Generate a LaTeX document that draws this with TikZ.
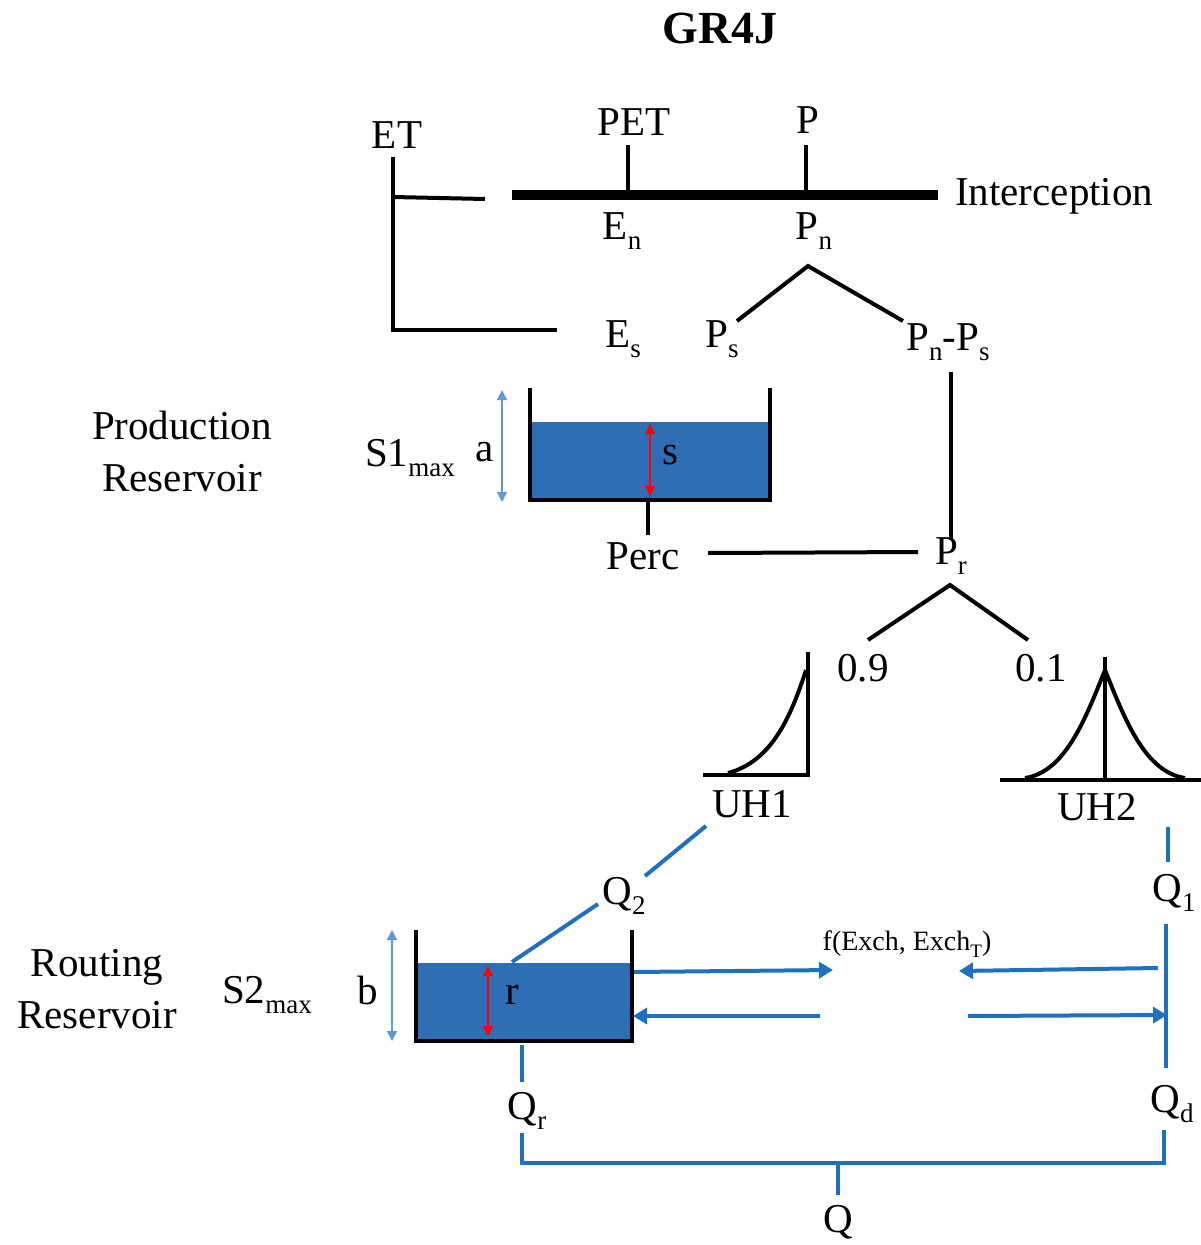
\documentclass[tikz,border=0pt]{standalone}
\usepackage{fontspec}
\setmainfont{Liberation Serif}
\usetikzlibrary{arrows.meta}
\definecolor{water}{HTML}{2E6EB5}
\definecolor{qblue}{HTML}{1F70C1}
\definecolor{lblue}{HTML}{5B9BD5}
\newcommand\sbs[1]{\raisebox{-0.25em}{\fontsize{27pt}{27pt}\selectfont #1}}
\tikzset{
  lbl/.style={inner sep=0pt, font=\fontsize{41pt}{41pt}\selectfont},
  small/.style={inner sep=0pt, font=\fontsize{28pt}{28pt}\selectfont},
  blk/.style={line width=4pt},
  wall/.style={line width=4.5pt},
  qline/.style={qblue, line width=4pt},
  xarrow/.style={qblue, line width=4pt, -{Triangle[length=14pt,width=16pt]}},
  harrow/.style={lblue, line width=1.5pt, {Triangle[length=10pt,width=10pt]}-{Triangle[length=10pt,width=10pt]}},
  rarrow/.style={red, line width=1.5pt, {Triangle[length=10pt,width=10pt]}-{Triangle[length=10pt,width=10pt]}},
}
\begin{document}
\begin{tikzpicture}[x=1pt,y=-1pt]
\useasboundingbox (0,0) rectangle (1201,1245);
% title
\node[inner sep=0pt, font=\fontsize{46pt}{46pt}\selectfont\bfseries] (title) at (720,28) {GR4J};
% top labels
\node[lbl] (ET) at (397,135) {ET};
\node[lbl] (PET) at (634,122) {PET};
\node[lbl] (P) at (808,120) {P};
\node[lbl, anchor=west] (interc) at (955,196) {Interception};
\node[lbl] (En) at (622,231) {E\sbs{n}};
\node[lbl] (Pn) at (814,231) {P\sbs{n}};
\node[lbl] (Es) at (623,339) {E\sbs{s}};
\node[lbl] (Ps) at (722,339) {P\sbs{s}};
\node[lbl] (PnPs) at (948,342) {P\sbs{n}-P\sbs{s}};
% interception bar
\coordinate (ib1) at (512,195); \coordinate (ib2) at (938,195);
\draw[line width=10pt] (ib1) -- (ib2);
\coordinate (petT) at (628,145); \coordinate (petB) at (628,192);
\coordinate (pT) at (806,145); \coordinate (pB) at (806,192);
\draw[blk] (petT) -- (petB);
\draw[blk] (pT) -- (pB);
% ET lines
\coordinate (et1) at (393,157); \coordinate (et2) at (393,330); \coordinate (et3) at (557,330);
\coordinate (etm) at (393,197); \coordinate (ete) at (485,199);
\draw[blk] (et1) -- (et2) -- (et3);
\draw[blk] (etm) -- (ete);
% Pn branch
\coordinate (pnA) at (808,266); \coordinate (pnL) at (737,321); \coordinate (pnR) at (903,321);
\draw[blk] (pnL) -- (pnA) -- (pnR);
\coordinate (psr1) at (951,372); \coordinate (psr2) at (951,540);
\draw[blk] (psr1) -- (psr2);
% production reservoir
\fill[water] (530,422) rectangle (770,499);
\draw[wall] (530,388) -- (530,500) -- (770,500) -- (770,388);
\draw[rarrow] (650,424) -- (650,496);
\node[lbl] (s) at (670,455) {s};
\draw[harrow] (502,390) -- (502,502);
\node[lbl] (a) at (485,452) {a};
\node[lbl] (S1) at (410,458) {S1\sbs{max}};
\node[lbl, align=center, font=\fontsize{41pt}{52pt}\selectfont] (prod) at (182,451) {Production\\Reservoir};
% perc
\coordinate (perc1) at (648,502); \coordinate (perc2) at (648,535);
\draw[blk] (perc1) -- (perc2);
\node[lbl] (Perc) at (643,556) {Perc};
\node[lbl] (Pr) at (951,556) {P\sbs{r}};
\coordinate (pl1) at (708,553); \coordinate (pl2) at (918,552);
\draw[blk] (pl1) -- (pl2);
% Pr branch
\coordinate (prA) at (950,585); \coordinate (prL) at (868,640); \coordinate (prR) at (1028,640);
\draw[blk] (prL) -- (prA) -- (prR);
\node[lbl] (n09) at (863,668) {0.9};
\node[lbl] (n01) at (1041,668) {0.1};
% UH1
\draw[blk] (703,775) -- (808,775) -- (808,652);
\draw[blk] (728,773) .. controls (770,762) and (790,720) .. (806,670);
\node[lbl] (UH1) at (752,804) {UH1};
% UH2
\draw[blk] (1000,780) -- (1201,780);
\draw[blk] (1105,780) -- (1105,657);
\draw[blk] (1025,778) .. controls (1065,772) and (1085,720) .. (1105,670)
  .. controls (1125,720) and (1145,772) .. (1185,778);
\node[lbl] (UH2) at (1097,807) {UH2};
% Q2
\node[lbl] (Q2) at (624,896) {Q\sbs{2}};
\coordinate (uh1q) at (706,826); \coordinate (q2t) at (645,876);
\coordinate (q2b) at (598,904); \coordinate (rsurf) at (512,962);
\draw[qline] (uh1q) -- (q2t);
% Q1
\node[lbl] (Q1) at (1174,893) {Q\sbs{1}};
\coordinate (uh2q) at (1168,827); \coordinate (q1t) at (1168,862);
\draw[qline] (uh2q) -- (q1t);
\coordinate (q1b) at (1166,924); \coordinate (qdt) at (1166,1068);
\draw[qline] (q1b) -- (qdt);
% routing reservoir
\fill[water] (416,963) rectangle (632,1039);
\draw[qline] (q2b) -- (rsurf);
\draw[wall] (416,930) -- (416,1041) -- (632,1041) -- (632,930);
\draw[rarrow] (488,966) -- (488,1036);
\node[lbl] (r) at (512,995) {r};
\draw[harrow] (392,930) -- (392,1041);
\node[lbl] (b) at (368,990) {b};
\node[lbl] (S2) at (267,995) {S2\sbs{max}};
\node[lbl, align=center, font=\fontsize{41pt}{52pt}\selectfont] (rout) at (97,989) {Routing\\Reservoir};
% exchange
\node[small] (exch) at (907,944) {f(Exch, Exch\sbs{\fontsize{19pt}{19pt}\selectfont T})};
\coordinate (x1a) at (634,972); \coordinate (x1b) at (833,970);
\coordinate (x2a) at (1158,968); \coordinate (x2b) at (959,971);
\coordinate (x3a) at (820,1016); \coordinate (x3b) at (633,1016);
\coordinate (x4a) at (968,1016); \coordinate (x4b) at (1167,1015);
\draw[xarrow] (x1a) -- (x1b);
\draw[xarrow] (x2a) -- (x2b);
\draw[xarrow] (x3a) -- (x3b);
\draw[xarrow] (x4a) -- (x4b);
% outflows
\node[lbl] (Qd) at (1172,1104) {Q\sbs{d}};
\node[lbl] (Qr) at (527,1111) {Q\sbs{r}};
\node[lbl] (Q) at (838,1222) {Q};
\coordinate (qr1) at (522,1045); \coordinate (qr2) at (522,1082);
\coordinate (qr3) at (522,1133); \coordinate (qd3) at (1164,1130);
\coordinate (qm) at (838,1163); \coordinate (qm2) at (838,1195);
\draw[qline] (qr1) -- (qr2);
\draw[qline] (qr3) |- (qm) -| (qd3);
\draw[qline] (qm) -- (qm2);
\end{tikzpicture}
\end{document}
